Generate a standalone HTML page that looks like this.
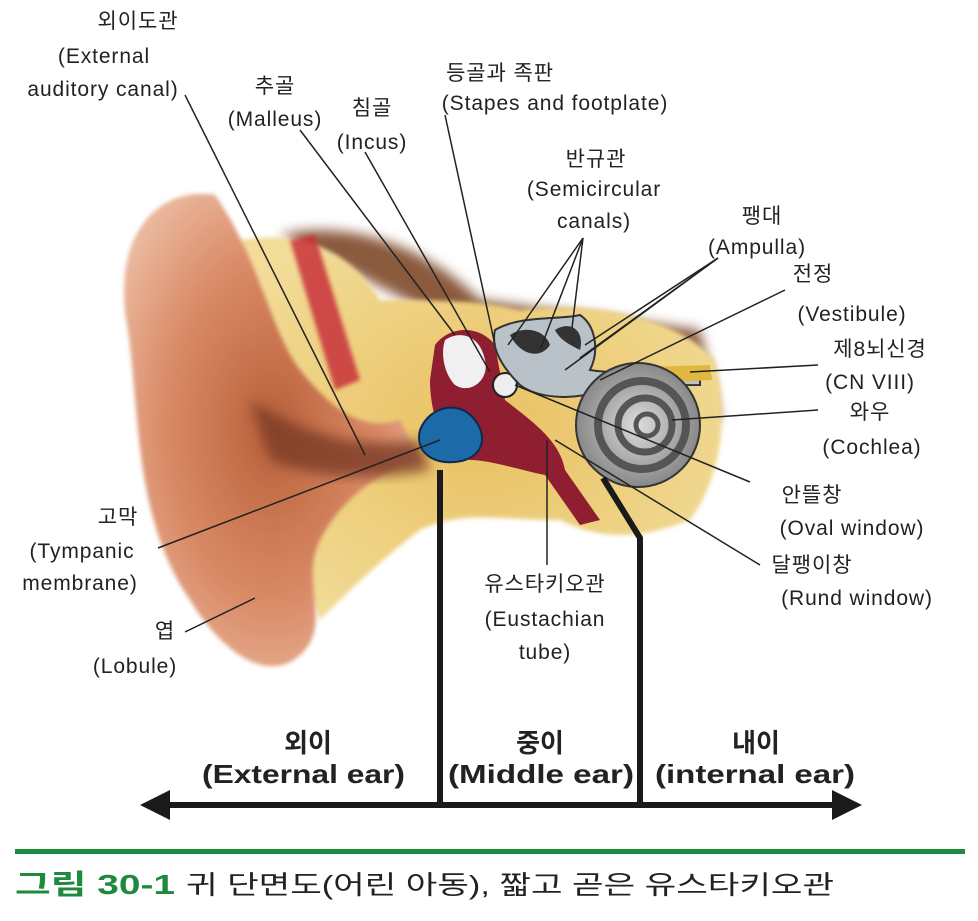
<!DOCTYPE html>
<html><head><meta charset="utf-8"><style>
html,body{margin:0;padding:0;background:#fff;}
svg{display:block}
text{font-family:"Liberation Sans","Noto Sans CJK KR",sans-serif;fill:#222;}
.l{font-size:21px;letter-spacing:0.9px;}
</style></head><body>
<svg width="978" height="921" viewBox="0 0 978 921" xmlns="http://www.w3.org/2000/svg">
<defs>
<radialGradient id="pin" cx="0.5" cy="0.5" r="0.6"><stop offset="0" stop-color="#b8603a"/><stop offset="0.6" stop-color="#d98a66"/><stop offset="1" stop-color="#eab79c"/></radialGradient>
<radialGradient id="bone" cx="0.5" cy="0.5" r="0.6"><stop offset="0" stop-color="#e8c060"/><stop offset="1" stop-color="#f2dc98"/></radialGradient>
<radialGradient id="coch" cx="0.5" cy="0.5" r="0.5"><stop offset="0" stop-color="#ddd"/><stop offset="1" stop-color="#888"/></radialGradient>
<filter id="bl"><feGaussianBlur stdDeviation="6"/></filter>
<filter id="bl2"><feGaussianBlur stdDeviation="2"/></filter>
</defs>
<path d="M280,235 C340,220 420,240 480,300 L700,330 L720,420 L600,400 Z" fill="#8a5a3c" filter="url(#bl)"/>
<path d="M240,240 C300,230 350,250 380,300 C430,300 480,300 520,310 C600,300 680,320 715,360 C730,420 720,480 690,520 C640,540 600,540 560,520 C500,520 460,510 420,530 C380,560 340,600 320,620 C300,560 260,520 250,470 Z" fill="url(#bone)" filter="url(#bl2)"/>
<path d="M290,240 L315,235 L360,380 L335,390 Z" fill="#c8303a" opacity="0.85" filter="url(#bl2)"/>
<path d="M215,195 C155,185 110,240 128,330 C140,420 135,520 190,600 C220,650 270,690 305,650 C330,620 300,580 320,540 C340,500 380,470 420,460 L400,420 C370,430 340,420 300,370 C270,330 260,260 215,195 Z" fill="url(#pin)" filter="url(#bl2)"/>
<path d="M250,400 C300,430 350,450 420,440 L430,470 C380,480 320,480 270,460 Z" fill="#7a3a25" opacity="0.8" filter="url(#bl)"/>
<path d="M435,345 C450,325 480,325 495,345 L505,400 C530,420 560,440 565,470 L600,520 L580,525 L545,475 C520,470 490,460 470,460 C440,450 430,410 430,380 Z" fill="#8e1e30"/>
<path d="M445,340 C460,330 480,335 485,360 C490,380 470,395 455,385 C445,375 440,355 445,340 Z" fill="#f0f0f0"/>
<ellipse cx="505" cy="385" rx="12" ry="12" fill="#eee" stroke="#222" stroke-width="2"/>
<path d="M420,430 C430,405 460,400 475,420 C490,440 480,460 455,462 C430,464 415,450 420,430 Z" fill="#1c6aa8" stroke="#0d2a4a" stroke-width="2"/>
<path d="M495,330 C520,315 560,320 580,315 C595,325 600,350 590,370 C620,375 660,370 700,370 L700,385 C650,385 620,385 600,390 C580,400 540,400 520,385 C505,370 490,350 495,330 Z" fill="#b9c2c8" stroke="#333" stroke-width="2"/>
<path d="M510,335 C525,325 545,330 550,345 C540,360 520,355 510,335 Z" fill="#333"/>
<path d="M555,330 C570,320 585,330 580,350 C570,345 560,340 555,330 Z" fill="#333"/>
<path d="M610,368 L710,365 L712,380 L612,385 Z" fill="#e0b840"/>
<circle cx="638" cy="425" r="62" fill="url(#coch)" stroke="#333" stroke-width="2"/>
<circle cx="642" cy="425" r="44" fill="none" stroke="#555" stroke-width="8"/>
<circle cx="645" cy="425" r="27" fill="none" stroke="#555" stroke-width="7"/>
<circle cx="647" cy="425" r="11" fill="none" stroke="#555" stroke-width="5"/>
<g stroke="#222" stroke-width="1.5" fill="none">
<line x1="185" y1="95" x2="365" y2="455"/>
<line x1="300" y1="130" x2="455" y2="335"/>
<line x1="365" y1="152" x2="490" y2="372"/>
<line x1="445" y1="115" x2="495" y2="345"/>
<line x1="583" y1="238" x2="508" y2="345"/>
<line x1="583" y1="238" x2="540" y2="350"/>
<line x1="583" y1="238" x2="572" y2="328"/>
<line x1="718" y1="258" x2="580" y2="358"/>
<line x1="718" y1="258" x2="565" y2="370"/>
<line x1="718" y1="258" x2="585" y2="345"/>
<line x1="785" y1="290" x2="600" y2="380"/>
<line x1="818" y1="365" x2="690" y2="372"/>
<line x1="818" y1="410" x2="672" y2="420"/>
<line x1="750" y1="482" x2="515" y2="385"/>
<line x1="760" y1="565" x2="555" y2="440"/>
<line x1="547" y1="565" x2="547" y2="440"/>
<line x1="158" y1="548" x2="440" y2="440"/>
<line x1="185" y1="632" x2="255" y2="598"/>
</g>
<g class="l" text-anchor="middle">
<text x="138" y="28">외이도관</text><text x="104" y="63">(External</text><text x="103" y="96">auditory canal)</text>
<text x="275" y="93">추골</text><text x="275" y="126">(Malleus)</text>
<text x="372" y="115">침골</text><text x="372" y="149">(Incus)</text>
<text x="500" y="80">등골과 족판</text><text x="555" y="110">(Stapes and footplate)</text>
<text x="596" y="166">반규관</text><text x="594" y="196">(Semicircular</text><text x="594" y="228">canals)</text>
<text x="762" y="223">팽대</text><text x="757" y="254">(Ampulla)</text>
<text x="813" y="281">전정</text><text x="852" y="321">(Vestibule)</text>
<text x="880" y="356">제8뇌신경</text><text x="870" y="389">(CN VIII)</text>
<text x="870" y="419">와우</text><text x="872" y="454">(Cochlea)</text>
<text x="812" y="502">안뜰창</text><text x="852" y="535">(Oval window)</text>
<text x="812" y="572">달팽이창</text><text x="857" y="605">(Rund window)</text>
<text x="545" y="591">유스타키오관</text><text x="545" y="626">(Eustachian</text><text x="545" y="659">tube)</text>
<text x="118" y="524">고막</text><text x="82" y="558">(Tympanic</text><text x="80" y="590">membrane)</text>
<text x="165" y="638">엽</text><text x="135" y="673">(Lobule)</text>
</g>
<g stroke="#1a1a1a" stroke-width="6" fill="none">
<line x1="160" y1="805" x2="842" y2="805"/>
<line x1="440" y1="470" x2="440" y2="805"/>
<polyline points="603,478 640,538 640,805"/>
</g>
<polygon points="140,805 170,790 170,820" fill="#1a1a1a"/>
<polygon points="862,805 832,790 832,820" fill="#1a1a1a"/>
<g font-size="26" font-weight="bold">
<text x="308" y="752" text-anchor="middle">외이</text><text x="202" y="783" textLength="203" lengthAdjust="spacingAndGlyphs">(External ear)</text>
<text x="540" y="752" text-anchor="middle">중이</text><text x="448" y="783" textLength="186" lengthAdjust="spacingAndGlyphs">(Middle ear)</text>
<text x="756" y="752" text-anchor="middle">내이</text><text x="655" y="783" textLength="200" lengthAdjust="spacingAndGlyphs">(internal ear)</text>
</g>
<rect x="15" y="849" width="950" height="5" fill="#1e8a3e"/>
<text x="15" y="894" font-size="28" font-weight="bold" textLength="160" lengthAdjust="spacingAndGlyphs" style="fill:#1e8a3e">그림 30-1</text>
<text x="186" y="894" font-size="26" textLength="648" lengthAdjust="spacingAndGlyphs">귀 단면도(어린 아동), 짧고 곧은 유스타키오관</text>
</svg>
</body></html>
